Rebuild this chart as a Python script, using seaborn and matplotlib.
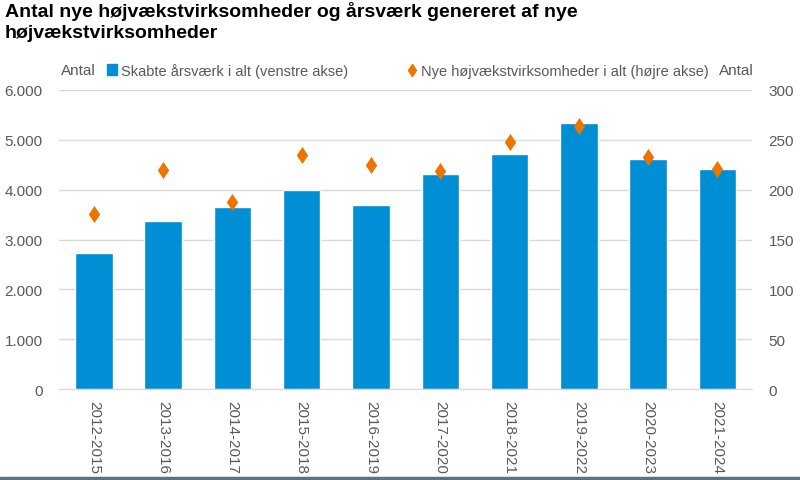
import matplotlib
matplotlib.use("Agg")
import matplotlib.pyplot as plt
import matplotlib.lines as mlines
import matplotlib.patches as mpatches
import numpy as np
import pandas as pd
import seaborn as sns

periods = ["2012-2015", "2013-2016", "2014-2017", "2015-2018", "2016-2019",
           "2017-2020", "2018-2021", "2019-2022", "2020-2023", "2021-2024"]
aarsvaerk = [2730, 3380, 3650, 4000, 3690, 4320, 4710, 5340, 4610, 4420]
virksomheder = [176, 220, 188, 235, 225, 219, 248, 264, 233, 221]

left_ticks = [0, 1000, 2000, 3000, 4000, 5000, 6000]
left_labels = ["0", "1.000", "2.000", "3.000", "4.000", "5.000", "6.000"]
right_ticks = [0, 50, 100, 150, 200, 250, 300]

df = pd.DataFrame({"periode": periods, "aarsvaerk": aarsvaerk, "virk": virksomheder})

sns.set_style("white")
plt.rcParams["font.family"] = ["Liberation Sans", "DejaVu Sans"]

blue = "#008fd5"
orange = "#ef7300"
grey_txt = "#595959"
grid_c = "#d9d9d9"

fig = plt.figure(figsize=(8, 4.81), dpi=100)
ax = fig.add_axes([0.074, 0.189, 0.866, 0.622])

sns.barplot(data=df, x="periode", y="aarsvaerk", color=blue, width=0.54,
            saturation=1, ax=ax, zorder=2)
ax.set_ylim(0, 6000)
ax.set_yticks(left_ticks)
ax.set_yticklabels(left_labels)
ax.yaxis.grid(True, color=grid_c, linewidth=1, zorder=0)
ax.set_axisbelow(True)
ax.set_xlim(-0.5, 9.5)
ax.set_xlabel("")
ax.set_ylabel("")
for s in ["top", "right", "left"]:
    ax.spines[s].set_visible(False)
ax.spines["bottom"].set_color(grid_c)
ax.tick_params(axis="both", length=0, labelsize=11, colors=grey_txt)
ax.tick_params(axis="y", pad=12)
ax.tick_params(axis="x", pad=8)
for lab in ax.get_xticklabels():
    lab.set_rotation(270)
    lab.set_va("top")
    lab.set_ha("center")

ax2 = ax.twinx()
sns.pointplot(data=df, x="periode", y="virk", color=orange, markers="d",
              linestyle="none", errorbar=None, markersize=6.5, ax=ax2, zorder=3)
ax2.set_ylim(0, 300)
ax2.set_yticks(right_ticks)
ax2.set_xlim(-0.5, 9.5)
ax2.set_ylabel("")
ax2.set_xlabel("")
for s in ["top", "right", "left", "bottom"]:
    ax2.spines[s].set_visible(False)
ax2.tick_params(axis="y", length=0, labelsize=11, colors=grey_txt, pad=12)

fig.text(0.006, 0.995, "Antal nye højvækstvirksomheder og årsværk genereret af nye\nhøjvækstvirksomheder",
         ha="left", va="top", fontsize=14, fontweight="bold", color="black", linespacing=1.25)

fig.text(0.098, 0.852, "Antal", ha="center", va="center", fontsize=11, color=grey_txt)
fig.text(0.92, 0.852, "Antal", ha="center", va="center", fontsize=11, color=grey_txt)

h1 = mpatches.Patch(color=blue, label="Skabte årsværk i alt (venstre akse)")
h2 = mlines.Line2D([], [], color=orange, marker="d", linestyle="none", markersize=6,
                   label="Nye højvækstvirksomheder i alt (højre akse)")
leg = fig.legend(handles=[h1, h2], loc="center", bbox_to_anchor=(0.51, 0.852), ncol=2,
                 frameon=False, fontsize=10.5, handlelength=0.7, handleheight=0.7,
                 handletextpad=0.3, columnspacing=4.0)
for t in leg.get_texts():
    t.set_color(grey_txt)

fig.add_artist(mlines.Line2D([0, 1], [0.004, 0.004], color="#607080", linewidth=2.5))

fig.savefig("out.png", dpi=100)
